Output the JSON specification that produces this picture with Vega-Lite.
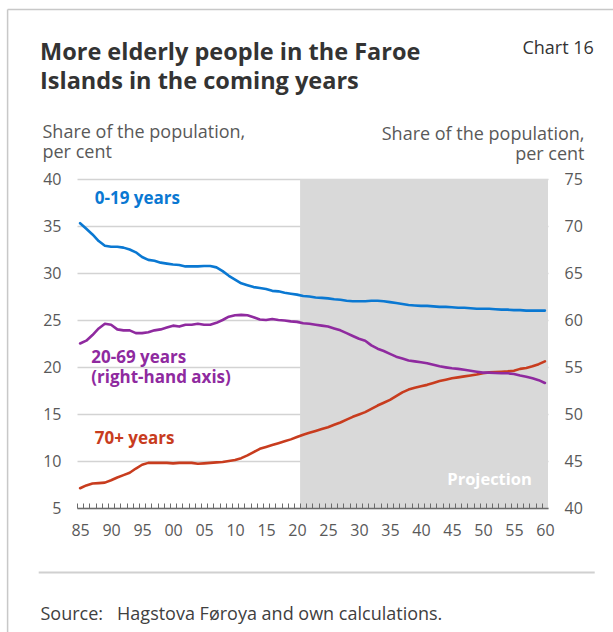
{
  "$schema": "https://vega.github.io/schema/vega-lite/v6.json",
  "width": 471,
  "height": 329,
  "autosize": "none",
  "padding": {"left": 77, "top": 179, "right": 65, "bottom": 124},
  "background": "white",
  "config": {
    "view": {"stroke": null},
    "font": "Open Sans",
    "axis": {"labelFont": "Open Sans", "titleFont": "Open Sans"}
  },
  "title": {
    "text": ["More elderly people in the Faroe", "Islands in the coming years"],
    "anchor": "start",
    "frame": "group",
    "orient": "top",
    "dx": -37,
    "offset": -104,
    "font": "Open Sans",
    "fontSize": 23.5,
    "fontWeight": "bold",
    "color": "#333333",
    "lineHeight": 29,
    "baseline": "alphabetic"
  },
  "datasets": {
    "population": [
      {"year": 1985, "group": "0-19 years", "share": 35.3},
      {"year": 1986, "group": "0-19 years", "share": 34.7},
      {"year": 1987, "group": "0-19 years", "share": 34.1},
      {"year": 1988, "group": "0-19 years", "share": 33.4},
      {"year": 1989, "group": "0-19 years", "share": 32.9},
      {"year": 1990, "group": "0-19 years", "share": 32.8},
      {"year": 1991, "group": "0-19 years", "share": 32.8},
      {"year": 1992, "group": "0-19 years", "share": 32.7},
      {"year": 1993, "group": "0-19 years", "share": 32.5},
      {"year": 1994, "group": "0-19 years", "share": 32.2},
      {"year": 1995, "group": "0-19 years", "share": 31.7},
      {"year": 1996, "group": "0-19 years", "share": 31.4},
      {"year": 1997, "group": "0-19 years", "share": 31.3},
      {"year": 1998, "group": "0-19 years", "share": 31.1},
      {"year": 1999, "group": "0-19 years", "share": 31.0},
      {"year": 2000, "group": "0-19 years", "share": 30.9},
      {"year": 2001, "group": "0-19 years", "share": 30.85},
      {"year": 2002, "group": "0-19 years", "share": 30.7},
      {"year": 2003, "group": "0-19 years", "share": 30.7},
      {"year": 2004, "group": "0-19 years", "share": 30.7},
      {"year": 2005, "group": "0-19 years", "share": 30.75},
      {"year": 2006, "group": "0-19 years", "share": 30.75},
      {"year": 2007, "group": "0-19 years", "share": 30.6},
      {"year": 2008, "group": "0-19 years", "share": 30.2},
      {"year": 2009, "group": "0-19 years", "share": 29.7},
      {"year": 2010, "group": "0-19 years", "share": 29.3},
      {"year": 2011, "group": "0-19 years", "share": 28.9},
      {"year": 2012, "group": "0-19 years", "share": 28.7},
      {"year": 2013, "group": "0-19 years", "share": 28.5},
      {"year": 2014, "group": "0-19 years", "share": 28.4},
      {"year": 2015, "group": "0-19 years", "share": 28.3},
      {"year": 2016, "group": "0-19 years", "share": 28.1},
      {"year": 2017, "group": "0-19 years", "share": 28.05},
      {"year": 2018, "group": "0-19 years", "share": 27.9},
      {"year": 2019, "group": "0-19 years", "share": 27.8},
      {"year": 2020, "group": "0-19 years", "share": 27.7},
      {"year": 2021, "group": "0-19 years", "share": 27.55},
      {"year": 2022, "group": "0-19 years", "share": 27.5},
      {"year": 2023, "group": "0-19 years", "share": 27.4},
      {"year": 2024, "group": "0-19 years", "share": 27.35},
      {"year": 2025, "group": "0-19 years", "share": 27.3},
      {"year": 2026, "group": "0-19 years", "share": 27.2},
      {"year": 2027, "group": "0-19 years", "share": 27.15},
      {"year": 2028, "group": "0-19 years", "share": 27.05},
      {"year": 2029, "group": "0-19 years", "share": 27.0},
      {"year": 2030, "group": "0-19 years", "share": 27.0},
      {"year": 2031, "group": "0-19 years", "share": 27.0},
      {"year": 2032, "group": "0-19 years", "share": 27.05},
      {"year": 2033, "group": "0-19 years", "share": 27.05},
      {"year": 2034, "group": "0-19 years", "share": 27.0},
      {"year": 2035, "group": "0-19 years", "share": 26.9},
      {"year": 2036, "group": "0-19 years", "share": 26.8},
      {"year": 2037, "group": "0-19 years", "share": 26.7},
      {"year": 2038, "group": "0-19 years", "share": 26.6},
      {"year": 2039, "group": "0-19 years", "share": 26.55},
      {"year": 2040, "group": "0-19 years", "share": 26.5},
      {"year": 2041, "group": "0-19 years", "share": 26.5},
      {"year": 2042, "group": "0-19 years", "share": 26.45},
      {"year": 2043, "group": "0-19 years", "share": 26.4},
      {"year": 2044, "group": "0-19 years", "share": 26.4},
      {"year": 2045, "group": "0-19 years", "share": 26.35},
      {"year": 2046, "group": "0-19 years", "share": 26.3},
      {"year": 2047, "group": "0-19 years", "share": 26.3},
      {"year": 2048, "group": "0-19 years", "share": 26.25},
      {"year": 2049, "group": "0-19 years", "share": 26.2},
      {"year": 2050, "group": "0-19 years", "share": 26.2},
      {"year": 2051, "group": "0-19 years", "share": 26.2},
      {"year": 2052, "group": "0-19 years", "share": 26.15},
      {"year": 2053, "group": "0-19 years", "share": 26.1},
      {"year": 2054, "group": "0-19 years", "share": 26.1},
      {"year": 2055, "group": "0-19 years", "share": 26.05},
      {"year": 2056, "group": "0-19 years", "share": 26.05},
      {"year": 2057, "group": "0-19 years", "share": 26.0},
      {"year": 2058, "group": "0-19 years", "share": 26.0},
      {"year": 2059, "group": "0-19 years", "share": 26.0},
      {"year": 2060, "group": "0-19 years", "share": 26.0},
      {"year": 1985, "group": "20-69 years", "share": 57.5},
      {"year": 1986, "group": "20-69 years", "share": 57.8},
      {"year": 1987, "group": "20-69 years", "share": 58.4},
      {"year": 1988, "group": "20-69 years", "share": 59.1},
      {"year": 1989, "group": "20-69 years", "share": 59.6},
      {"year": 1990, "group": "20-69 years", "share": 59.5},
      {"year": 1991, "group": "20-69 years", "share": 59.0},
      {"year": 1992, "group": "20-69 years", "share": 58.9},
      {"year": 1993, "group": "20-69 years", "share": 58.9},
      {"year": 1994, "group": "20-69 years", "share": 58.6},
      {"year": 1995, "group": "20-69 years", "share": 58.6},
      {"year": 1996, "group": "20-69 years", "share": 58.7},
      {"year": 1997, "group": "20-69 years", "share": 58.9},
      {"year": 1998, "group": "20-69 years", "share": 59.0},
      {"year": 1999, "group": "20-69 years", "share": 59.2},
      {"year": 2000, "group": "20-69 years", "share": 59.4},
      {"year": 2001, "group": "20-69 years", "share": 59.3},
      {"year": 2002, "group": "20-69 years", "share": 59.5},
      {"year": 2003, "group": "20-69 years", "share": 59.5},
      {"year": 2004, "group": "20-69 years", "share": 59.6},
      {"year": 2005, "group": "20-69 years", "share": 59.5},
      {"year": 2006, "group": "20-69 years", "share": 59.5},
      {"year": 2007, "group": "20-69 years", "share": 59.7},
      {"year": 2008, "group": "20-69 years", "share": 60.0},
      {"year": 2009, "group": "20-69 years", "share": 60.35},
      {"year": 2010, "group": "20-69 years", "share": 60.5},
      {"year": 2011, "group": "20-69 years", "share": 60.55},
      {"year": 2012, "group": "20-69 years", "share": 60.5},
      {"year": 2013, "group": "20-69 years", "share": 60.3},
      {"year": 2014, "group": "20-69 years", "share": 60.05},
      {"year": 2015, "group": "20-69 years", "share": 60.0},
      {"year": 2016, "group": "20-69 years", "share": 60.1},
      {"year": 2017, "group": "20-69 years", "share": 60.0},
      {"year": 2018, "group": "20-69 years", "share": 59.95},
      {"year": 2019, "group": "20-69 years", "share": 59.85},
      {"year": 2020, "group": "20-69 years", "share": 59.8},
      {"year": 2021, "group": "20-69 years", "share": 59.65},
      {"year": 2022, "group": "20-69 years", "share": 59.6},
      {"year": 2023, "group": "20-69 years", "share": 59.5},
      {"year": 2024, "group": "20-69 years", "share": 59.4},
      {"year": 2025, "group": "20-69 years", "share": 59.3},
      {"year": 2026, "group": "20-69 years", "share": 59.1},
      {"year": 2027, "group": "20-69 years", "share": 58.9},
      {"year": 2028, "group": "20-69 years", "share": 58.6},
      {"year": 2029, "group": "20-69 years", "share": 58.3},
      {"year": 2030, "group": "20-69 years", "share": 58.0},
      {"year": 2031, "group": "20-69 years", "share": 57.8},
      {"year": 2032, "group": "20-69 years", "share": 57.3},
      {"year": 2033, "group": "20-69 years", "share": 56.95},
      {"year": 2034, "group": "20-69 years", "share": 56.7},
      {"year": 2035, "group": "20-69 years", "share": 56.4},
      {"year": 2036, "group": "20-69 years", "share": 56.1},
      {"year": 2037, "group": "20-69 years", "share": 55.9},
      {"year": 2038, "group": "20-69 years", "share": 55.7},
      {"year": 2039, "group": "20-69 years", "share": 55.6},
      {"year": 2040, "group": "20-69 years", "share": 55.5},
      {"year": 2041, "group": "20-69 years", "share": 55.4},
      {"year": 2042, "group": "20-69 years", "share": 55.25},
      {"year": 2043, "group": "20-69 years", "share": 55.07},
      {"year": 2044, "group": "20-69 years", "share": 54.96},
      {"year": 2045, "group": "20-69 years", "share": 54.86},
      {"year": 2046, "group": "20-69 years", "share": 54.8},
      {"year": 2047, "group": "20-69 years", "share": 54.7},
      {"year": 2048, "group": "20-69 years", "share": 54.6},
      {"year": 2049, "group": "20-69 years", "share": 54.5},
      {"year": 2050, "group": "20-69 years", "share": 54.4},
      {"year": 2051, "group": "20-69 years", "share": 54.4},
      {"year": 2052, "group": "20-69 years", "share": 54.36},
      {"year": 2053, "group": "20-69 years", "share": 54.33},
      {"year": 2054, "group": "20-69 years", "share": 54.33},
      {"year": 2055, "group": "20-69 years", "share": 54.26},
      {"year": 2056, "group": "20-69 years", "share": 54.1},
      {"year": 2057, "group": "20-69 years", "share": 53.97},
      {"year": 2058, "group": "20-69 years", "share": 53.8},
      {"year": 2059, "group": "20-69 years", "share": 53.6},
      {"year": 2060, "group": "20-69 years", "share": 53.3},
      {"year": 1985, "group": "70+ years", "share": 7.1},
      {"year": 1986, "group": "70+ years", "share": 7.4},
      {"year": 1987, "group": "70+ years", "share": 7.6},
      {"year": 1988, "group": "70+ years", "share": 7.65},
      {"year": 1989, "group": "70+ years", "share": 7.7},
      {"year": 1990, "group": "70+ years", "share": 7.95},
      {"year": 1991, "group": "70+ years", "share": 8.25},
      {"year": 1992, "group": "70+ years", "share": 8.5},
      {"year": 1993, "group": "70+ years", "share": 8.75},
      {"year": 1994, "group": "70+ years", "share": 9.2},
      {"year": 1995, "group": "70+ years", "share": 9.6},
      {"year": 1996, "group": "70+ years", "share": 9.8},
      {"year": 1997, "group": "70+ years", "share": 9.8},
      {"year": 1998, "group": "70+ years", "share": 9.8},
      {"year": 1999, "group": "70+ years", "share": 9.8},
      {"year": 2000, "group": "70+ years", "share": 9.75},
      {"year": 2001, "group": "70+ years", "share": 9.8},
      {"year": 2002, "group": "70+ years", "share": 9.8},
      {"year": 2003, "group": "70+ years", "share": 9.8},
      {"year": 2004, "group": "70+ years", "share": 9.7},
      {"year": 2005, "group": "70+ years", "share": 9.75},
      {"year": 2006, "group": "70+ years", "share": 9.8},
      {"year": 2007, "group": "70+ years", "share": 9.85},
      {"year": 2008, "group": "70+ years", "share": 9.9},
      {"year": 2009, "group": "70+ years", "share": 10.0},
      {"year": 2010, "group": "70+ years", "share": 10.1},
      {"year": 2011, "group": "70+ years", "share": 10.3},
      {"year": 2012, "group": "70+ years", "share": 10.6},
      {"year": 2013, "group": "70+ years", "share": 10.95},
      {"year": 2014, "group": "70+ years", "share": 11.3},
      {"year": 2015, "group": "70+ years", "share": 11.5},
      {"year": 2016, "group": "70+ years", "share": 11.7},
      {"year": 2017, "group": "70+ years", "share": 11.9},
      {"year": 2018, "group": "70+ years", "share": 12.1},
      {"year": 2019, "group": "70+ years", "share": 12.3},
      {"year": 2020, "group": "70+ years", "share": 12.55},
      {"year": 2021, "group": "70+ years", "share": 12.8},
      {"year": 2022, "group": "70+ years", "share": 13.0},
      {"year": 2023, "group": "70+ years", "share": 13.2},
      {"year": 2024, "group": "70+ years", "share": 13.4},
      {"year": 2025, "group": "70+ years", "share": 13.6},
      {"year": 2026, "group": "70+ years", "share": 13.85},
      {"year": 2027, "group": "70+ years", "share": 14.1},
      {"year": 2028, "group": "70+ years", "share": 14.4},
      {"year": 2029, "group": "70+ years", "share": 14.7},
      {"year": 2030, "group": "70+ years", "share": 14.95},
      {"year": 2031, "group": "70+ years", "share": 15.2},
      {"year": 2032, "group": "70+ years", "share": 15.55},
      {"year": 2033, "group": "70+ years", "share": 15.9},
      {"year": 2034, "group": "70+ years", "share": 16.2},
      {"year": 2035, "group": "70+ years", "share": 16.5},
      {"year": 2036, "group": "70+ years", "share": 16.9},
      {"year": 2037, "group": "70+ years", "share": 17.3},
      {"year": 2038, "group": "70+ years", "share": 17.6},
      {"year": 2039, "group": "70+ years", "share": 17.8},
      {"year": 2040, "group": "70+ years", "share": 17.95},
      {"year": 2041, "group": "70+ years", "share": 18.1},
      {"year": 2042, "group": "70+ years", "share": 18.3},
      {"year": 2043, "group": "70+ years", "share": 18.5},
      {"year": 2044, "group": "70+ years", "share": 18.65},
      {"year": 2045, "group": "70+ years", "share": 18.8},
      {"year": 2046, "group": "70+ years", "share": 18.9},
      {"year": 2047, "group": "70+ years", "share": 19.0},
      {"year": 2048, "group": "70+ years", "share": 19.1},
      {"year": 2049, "group": "70+ years", "share": 19.2},
      {"year": 2050, "group": "70+ years", "share": 19.33},
      {"year": 2051, "group": "70+ years", "share": 19.43},
      {"year": 2052, "group": "70+ years", "share": 19.47},
      {"year": 2053, "group": "70+ years", "share": 19.5},
      {"year": 2054, "group": "70+ years", "share": 19.54},
      {"year": 2055, "group": "70+ years", "share": 19.6},
      {"year": 2056, "group": "70+ years", "share": 19.8},
      {"year": 2057, "group": "70+ years", "share": 19.9},
      {"year": 2058, "group": "70+ years", "share": 20.07},
      {"year": 2059, "group": "70+ years", "share": 20.3},
      {"year": 2060, "group": "70+ years", "share": 20.6}
    ],
    "single": [{}]
  },
  "layer": [
    {
      "data": {"name": "single"},
      "mark": {"type": "rect", "color": "#d9d9d9"},
      "encoding": {
        "x": {"datum": 2020.5, "type": "quantitative", "axis": null},
        "x2": {"datum": 2060.5},
        "y": {"datum": 5, "type": "quantitative", "axis": null, "scale": {"domain": [5, 40], "nice": false, "zero": false}},
        "y2": {"datum": 40}
      }
    },
    {
      "data": {"name": "population"},
      "transform": [{"filter": "datum.group !== '20-69 years'"}],
      "mark": {"type": "line", "strokeWidth": 2.6, "strokeJoin": "round", "strokeCap": "round"},
      "encoding": {
        "x": {
          "field": "year",
          "type": "quantitative",
          "scale": {"domain": [1984.5, 2060.5], "nice": false, "zero": false},
          "axis": null
        },
        "y": {
          "field": "share",
          "type": "quantitative",
          "scale": {"domain": [5, 40], "nice": false, "zero": false},
          "axis": {
            "values": [5, 10, 15, 20, 25, 30, 35, 40],
            "ticks": false,
            "domain": false,
            "grid": true,
            "gridColor": "#d3d3d3",
            "gridWidth": 1.5,
            "labelFontSize": 16,
            "labelColor": "#595959",
            "labelPadding": 16,
            "title": ["Share of the population,", "per cent"],
            "titleFontSize": 18,
            "titleFontWeight": "normal",
            "titleColor": "#595959",
            "titleAngle": 0,
            "titleAlign": "left",
            "titleBaseline": "alphabetic",
            "titleLineHeight": 20,
            "titleX": -35,
            "titleY": -42
          }
        },
        "color": {
          "field": "group",
          "type": "nominal",
          "scale": {"domain": ["0-19 years", "70+ years"], "range": ["#0a78d2", "#c83c1e"]},
          "legend": null
        }
      }
    },
    {
      "data": {"name": "single"},
      "mark": {"type": "text", "text": "0-19 years", "align": "left", "baseline": "alphabetic", "fontSize": 17, "fontWeight": "bold", "color": "#0a78d2"},
      "encoding": {
        "x": {"datum": 1987.37, "type": "quantitative", "axis": null},
        "y": {"datum": 37.3, "type": "quantitative", "axis": null, "scale": {"domain": [5, 40], "nice": false, "zero": false}}
      }
    },
    {
      "data": {"name": "single"},
      "mark": {"type": "text", "text": ["20-69 years", "(right-hand axis)"], "align": "left", "baseline": "alphabetic", "lineHeight": 20, "fontSize": 17, "fontWeight": "bold", "color": "#8f2a9f"},
      "encoding": {
        "x": {"datum": 1986.8, "type": "quantitative", "axis": null},
        "y": {"datum": 20.45, "type": "quantitative", "axis": null, "scale": {"domain": [5, 40], "nice": false, "zero": false}}
      }
    },
    {
      "data": {"name": "single"},
      "mark": {"type": "text", "text": "70+ years", "align": "left", "baseline": "alphabetic", "fontSize": 17, "fontWeight": "bold", "color": "#c83c1e"},
      "encoding": {
        "x": {"datum": 1987.37, "type": "quantitative", "axis": null},
        "y": {"datum": 11.86, "type": "quantitative", "axis": null, "scale": {"domain": [5, 40], "nice": false, "zero": false}}
      }
    },
    {
      "data": {"name": "single"},
      "mark": {"type": "text", "text": "Projection", "align": "right", "baseline": "alphabetic", "fontSize": 16.5, "fontWeight": "bold", "color": "white"},
      "encoding": {
        "x": {"datum": 2057.9, "type": "quantitative", "axis": null},
        "y": {"datum": 7.4, "type": "quantitative", "axis": null, "scale": {"domain": [5, 40], "nice": false, "zero": false}}
      }
    },
    {
      "data": {"name": "single"},
      "mark": {"type": "text", "text": "Chart 16", "align": "right", "baseline": "alphabetic", "fontSize": 18, "color": "#333333"},
      "encoding": {
        "x": {"datum": 2067.9, "type": "quantitative", "axis": null},
        "y": {"datum": 53.3, "type": "quantitative", "axis": null, "scale": {"domain": [5, 40], "nice": false, "zero": false}}
      }
    },
    {
      "data": {"name": "single"},
      "mark": {"type": "rule", "color": "#d0d0d0", "strokeWidth": 2},
      "encoding": {
        "x": {"datum": 1978.32, "type": "quantitative", "axis": null},
        "x2": {"datum": 2068.04},
        "y": {"datum": -1.85, "type": "quantitative", "axis": null, "scale": {"domain": [5, 40], "nice": false, "zero": false}}
      }
    },
    {
      "data": {"name": "single"},
      "mark": {"type": "rule", "color": "#c8c8c8", "strokeWidth": 1.5},
      "encoding": {
        "x": {"datum": 1973.3, "type": "quantitative", "axis": null},
        "x2": {"datum": 2083.3},
        "y": {"datum": 58.03, "type": "quantitative", "axis": null, "scale": {"domain": [5, 40], "nice": false, "zero": false}}
      }
    },
    {
      "data": {"name": "single"},
      "mark": {"type": "rule", "color": "#c8c8c8", "strokeWidth": 1.5},
      "encoding": {
        "x": {"datum": 1973.3, "type": "quantitative", "axis": null},
        "y": {"datum": 58.03, "type": "quantitative", "axis": null, "scale": {"domain": [5, 40], "nice": false, "zero": false}},
        "y2": {"datum": -8.2}
      }
    },
    {
      "data": {"name": "population"},
      "transform": [{"filter": "datum.group === '20-69 years'"}],
      "mark": {"type": "line", "strokeWidth": 2.6, "strokeJoin": "round", "strokeCap": "round", "color": "#8f2a9f"},
      "encoding": {
        "x": {
          "field": "year",
          "type": "quantitative",
          "axis": {
            "orient": "bottom",
            "values": [1985, 1986, 1987, 1988, 1989, 1990, 1991, 1992, 1993, 1994, 1995, 1996, 1997, 1998, 1999, 2000, 2001, 2002, 2003, 2004, 2005, 2006, 2007, 2008, 2009, 2010, 2011, 2012, 2013, 2014, 2015, 2016, 2017, 2018, 2019, 2020, 2021, 2022, 2023, 2024, 2025, 2026, 2027, 2028, 2029, 2030, 2031, 2032, 2033, 2034, 2035, 2036, 2037, 2038, 2039, 2040, 2041, 2042, 2043, 2044, 2045, 2046, 2047, 2048, 2049, 2050, 2051, 2052, 2053, 2054, 2055, 2056, 2057, 2058, 2059, 2060, 2061],
            "labelExpr": "datum.value % 5 === 0 ? slice(format(datum.value, 'd'), 2) : ''",
            "labelOverlap": false,
            "labelFlush": false,
            "labelBound": false,
            "labelFontSize": 16,
            "labelColor": "#595959",
            "labelPadding": 19,
            "labelOffset": 3.1,
            "ticks": true,
            "tickOffset": -3.1,
            "tickColor": "#6b6b6b",
            "tickWidth": 1,
            "tickSize": -5,
            "domain": true,
            "domainColor": "#6b6b6b",
            "domainWidth": 1.5,
            "grid": false,
            "zindex": 1,
            "title": "Source:\u00a0\u00a0 Hagstova Føroya and own calculations.",
            "titleFontSize": 18,
            "titleFontWeight": "normal",
            "titleColor": "#404040",
            "titleAnchor": "start",
            "titleAlign": "left",
            "titleBaseline": "alphabetic",
            "titleX": -37,
            "titleY": 111
          }
        },
        "y": {
          "field": "share",
          "type": "quantitative",
          "scale": {"domain": [40, 75], "nice": false, "zero": false},
          "axis": {
            "orient": "right",
            "values": [40, 45, 50, 55, 60, 65, 70, 75],
            "ticks": false,
            "domain": false,
            "grid": false,
            "labelFontSize": 16,
            "labelColor": "#595959",
            "labelPadding": 16,
            "title": ["Share of the population,\u00a0\u00a0", "per cent"],
            "titleFontSize": 18,
            "titleFontWeight": "normal",
            "titleColor": "#595959",
            "titleAngle": 0,
            "titleAlign": "right",
            "titleBaseline": "alphabetic",
            "titleLineHeight": 20,
            "titleX": 36,
            "titleY": -40
          }
        }
      }
    }
  ],
  "resolve": {"scale": {"y": "independent"}, "axis": {"x": "independent"}}
}
